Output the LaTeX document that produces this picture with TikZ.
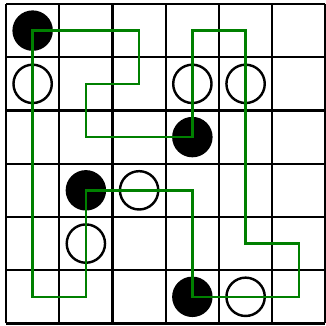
\documentclass[tikz,border=0pt]{standalone}
\usepackage{tikz}
\definecolor{pathG}{RGB}{0,128,0}
\tikzset{
  blackstone/.style={circle,fill=black,inner sep=0pt,minimum size=0.76cm},
  whitestone/.style={circle,draw=black,fill=white,line width=1.3pt,inner sep=0pt,minimum size=0.72cm}
}
\begin{document}
\begin{tikzpicture}[line width=1.3pt]
\useasboundingbox (-0.113,-0.04) rectangle (6.01,6.075);
\draw[black] (0,0) grid (6,6);
% black stones
\node[blackstone] (b1) at (0.5,5.5) {};
\node[blackstone] (b2) at (3.5,3.5) {};
\node[blackstone] (b3) at (1.5,2.5) {};
\node[blackstone] (b4) at (3.5,0.5) {};
% white stones
\node[whitestone] (w1) at (0.5,4.5) {};
\node[whitestone] (w2) at (3.5,4.5) {};
\node[whitestone] (w3) at (4.5,4.5) {};
\node[whitestone] (w4) at (2.5,2.5) {};
\node[whitestone] (w5) at (1.5,1.5) {};
\node[whitestone] (w6) at (4.5,0.5) {};
% loop
\draw[pathG,line join=miter] (b1.center) -- (2.5,5.5) -- (2.5,4.5) -- (1.5,4.5) -- (1.5,3.5) -- (b2.center)
  -- (3.5,5.5) -- (4.5,5.5) -- (w3.center) -- (4.5,1.5) -- (5.5,1.5) -- (5.5,0.5) -- (w6.center) -- (b4.center)
  -- (3.5,2.5) -- (w4.center) -- (b3.center) -- (w5.center) -- (1.5,0.5) -- (0.5,0.5) -- (w1.center) -- cycle;
\end{tikzpicture}
\end{document}
